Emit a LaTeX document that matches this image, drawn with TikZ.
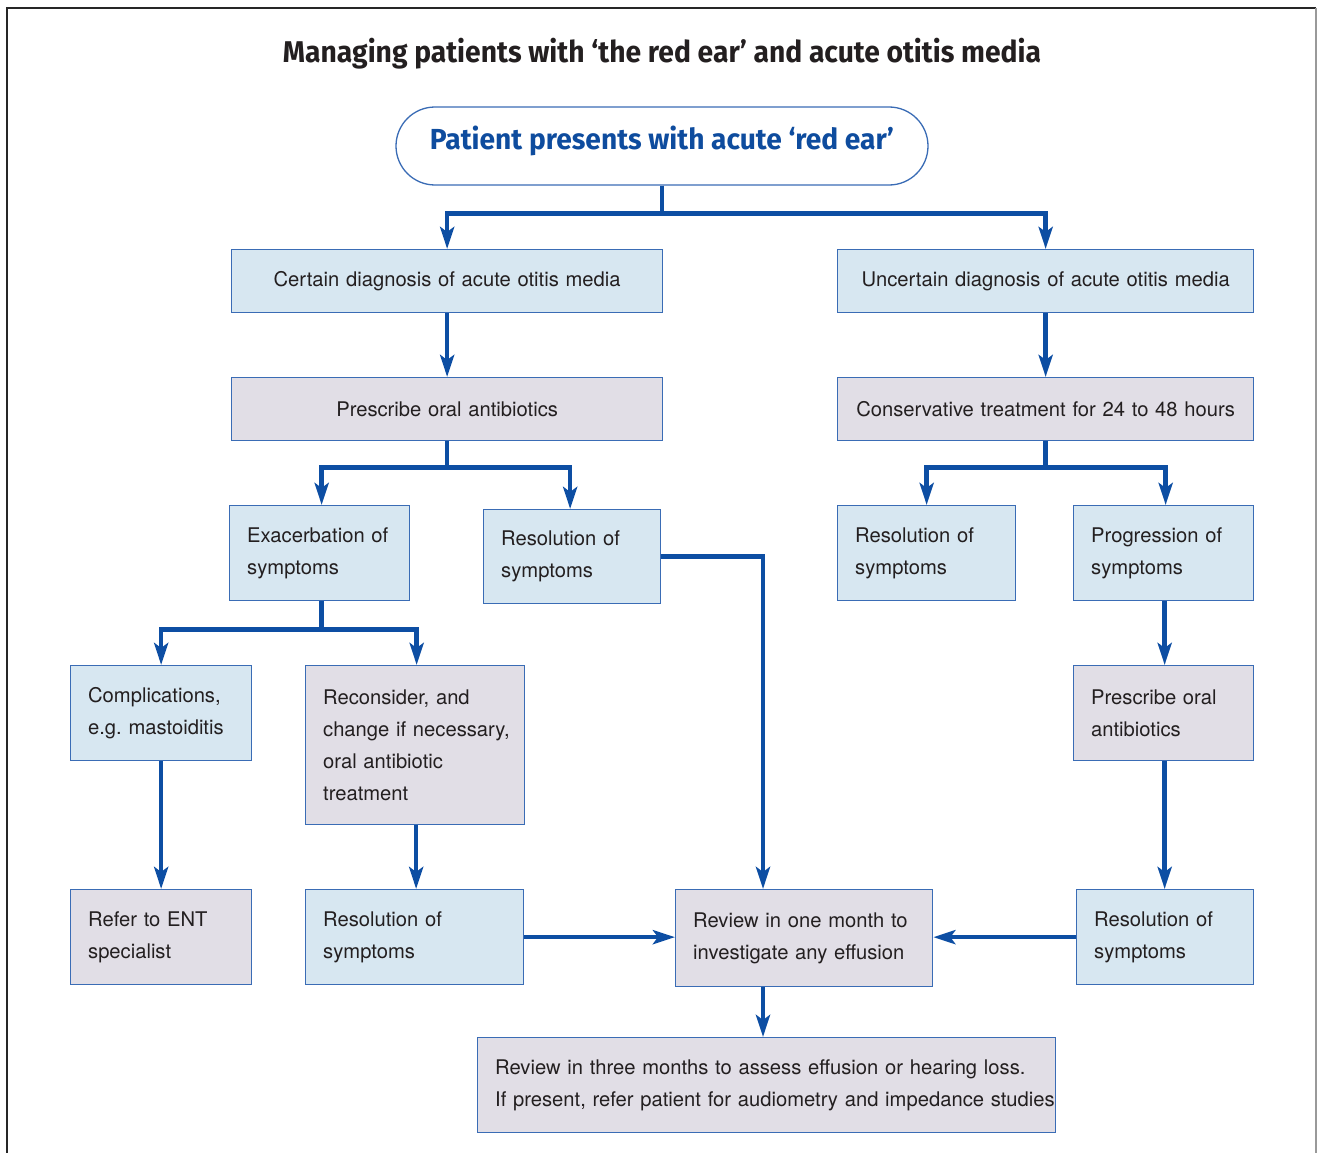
\documentclass[tikz,border=0pt]{standalone}
\usepackage{graphicx}
\usepackage{fontspec}
\setmainfont{TeX Gyre Heros}[WordSpace=0.8]
\newfontfamily\titlefont{Fira Sans}
\usetikzlibrary{arrows.meta}
\frenchspacing
\definecolor{arrowblue}{HTML}{0D4EA3}
\definecolor{boxline}{HTML}{3A6CB5}
\definecolor{lblue}{HTML}{D7E7F1}
\definecolor{lav}{HTML}{E1DEE6}
\definecolor{txt}{HTML}{231F20}
\definecolor{titleblue}{HTML}{0E4C9E}
\newcommand{\tline}[1]{\mbox{#1}}
\tikzset{
  box/.style={draw=boxline, line width=1.3pt, inner xsep=17.5pt, inner ysep=0pt,
    anchor=north west, text=txt, font=\fontsize{20.2}{32}\selectfont},
  bluebox/.style={box, fill=lblue},
  lavbox/.style={box, fill=lav},
  arr/.style={draw=arrowblue, line width=4.5pt,
    -{Stealth[length=22pt, width=14pt, inset=5pt]}},
}
\begin{document}
\begin{tikzpicture}[x=1pt, y=-1pt]
\useasboundingbox (0,0) rectangle (1317,1153);
% frame
\draw[black!85, line width=2pt] (7,1153) -- (7,8) -- (1316,8);
\draw[black!40, line width=1.5pt] (1316,8) -- (1316,1153);

\node[anchor=base, text=txt] (title) at (662,63)
  {\resizebox{758pt}{\height}{\fontsize{30}{36}\titlefont\bfseries Managing patients with ‘the red ear’ and acute otitis media}};

\node[draw=boxline, line width=1.3pt, rounded corners=39pt, minimum width=532pt,
  minimum height=78pt, text height=20pt, text depth=14pt, inner ysep=0pt, text=titleblue]
  (top) at (662,146)
  {\resizebox{464pt}{\height}{\fontsize{29}{34}\titlefont\bfseries Patient presents with acute ‘red ear’}};

\node[bluebox, minimum height=63pt, text width=396pt, align=center] (A) at (231,249)
  {Certain diagnosis of acute otitis media};
\node[bluebox, minimum height=63pt, text width=381pt, align=center] (B) at (837,249)
  {Uncertain diagnosis of acute otitis media};
\node[lavbox, minimum height=63pt, text width=396pt, align=center] (C) at (231,377)
  {Prescribe oral antibiotics};
\node[lavbox, minimum height=63pt, text width=381pt, align=center] (D) at (837,377)
  {Conservative treatment for 24 to 48 hours};

\node[bluebox, minimum height=95pt, text width=145pt, align=left] (E) at (229,505)
  {\tline{Exacerbation of}\\\tline{symptoms}};
\node[bluebox, minimum height=94pt, text width=142pt, align=left] (F) at (483,509)
  {\tline{Resolution of}\\\tline{symptoms}};
\node[bluebox, minimum height=95pt, text width=143pt, align=left] (G) at (837,505)
  {\tline{Resolution of}\\\tline{symptoms}};
\node[bluebox, minimum height=95pt, text width=145pt, align=left] (H) at (1073,505)
  {\tline{Progression of}\\\tline{symptoms}};

\node[bluebox, minimum height=95pt, text width=146pt, align=left] (I) at (70,665)
  {\tline{Complications,}\\\tline{e.g. mastoiditis}};
\node[lavbox, minimum height=159pt, text width=184pt, align=left] (J) at (305,665)
  {\tline{Reconsider, and}\\\tline{change if necessary,}\\\tline{oral antibiotic}\\\tline{treatment}};
\node[lavbox, minimum height=95pt, text width=145pt, align=left] (K) at (1073,665)
  {\tline{Prescribe oral}\\\tline{antibiotics}};

\node[lavbox, minimum height=95pt, text width=146pt, align=left] (L) at (70,889)
  {\tline{Refer to ENT}\\\tline{specialist}};
\node[bluebox, minimum height=95pt, text width=183pt, align=left] (M) at (305,889)
  {\tline{Resolution of}\\\tline{symptoms}};
\node[lavbox, minimum height=97pt, text width=222pt, align=left] (O) at (675,889)
  {\tline{Review in one month to}\\\tline{investigate any effusion}};
\node[bluebox, minimum height=95pt, text width=142pt, align=left] (N) at (1076,889)
  {\tline{Resolution of}\\\tline{symptoms}};

\node[lavbox, minimum height=95pt, text width=543pt, align=left] (P) at (477,1037)
  {\tline{Review in three months to assess effusion or hearing loss.}\\\tline{If present, refer patient for audiometry and impedance studies}};

\coordinate (v) at (763,0);

% connectors
\draw[arr] (top.south) -- ++(0,28) -| (A.north);
\draw[arr] (top.south) -- ++(0,28) -| (B.north);
\draw[arr] (A.south) -- (C.north);
\draw[arr] (B.south) -- (D.north);
\draw[arr] (C.south) -- ++(0,26) -| ([xshift=2pt]E.north);
\draw[arr] (C.south) -- ++(0,26) -| ([xshift=-2pt]F.north);
\draw[arr] (D.south) -- ++(0,26) -| (G.north);
\draw[arr] (D.south) -- ++(0,26) -| ([xshift=2pt]H.north);
\draw[arr] ([xshift=2pt]E.south) -- ++(0,28) -| (I.north);
\draw[arr] ([xshift=2pt]E.south) -- ++(0,28) -| ([xshift=1.5pt]J.north);
\draw[arr] ([xshift=1pt]H.south) -- ([xshift=1pt]H.south |- K.north);
\draw[arr] ([xshift=1pt]K.south) -- ([xshift=1pt]K.south |- N.north);
\draw[arr] (I.south) -- (I.south |- L.north);
\draw[arr] ([xshift=1pt]J.south) -- ([xshift=1pt]J.south |- M.north);
\draw[arr] (F.east) -| (v |- O.north);
\draw[arr] (M.east) -- (M.east -| O.west);
\draw[arr] (N.west) -- (N.west -| O.east);
\draw[arr] (v |- O.south) -- (v |- P.north);
\end{tikzpicture}
\end{document}
